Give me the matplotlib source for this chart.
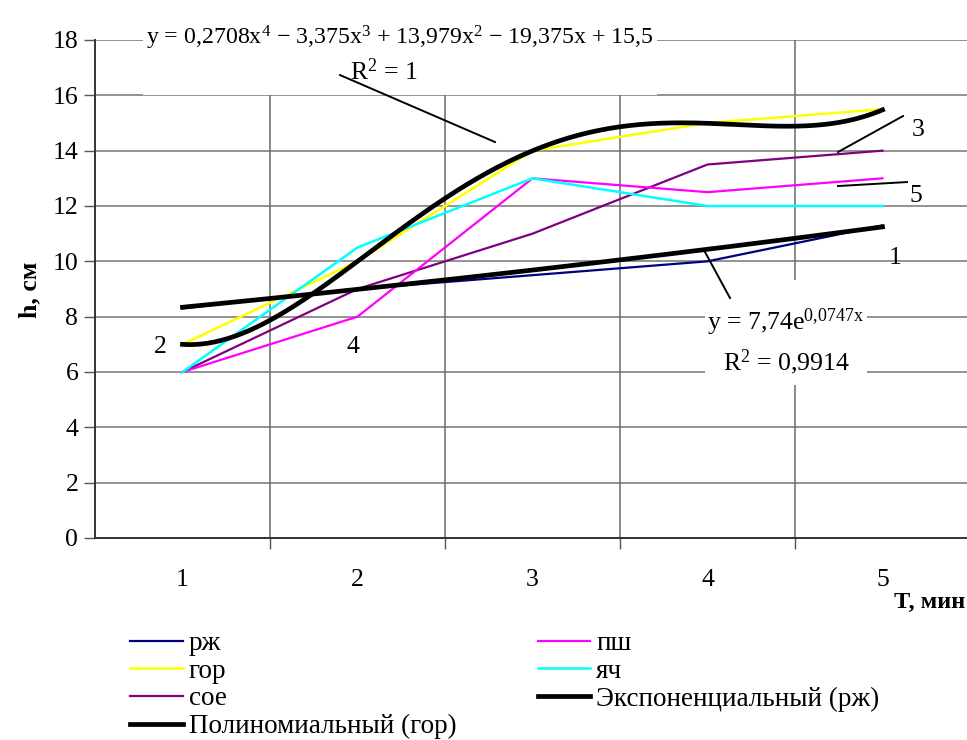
import numpy as np
import matplotlib
matplotlib.use("Agg")
import matplotlib.pyplot as plt
from matplotlib.patches import Rectangle

plt.rcParams['font.family'] = ['Liberation Serif', 'DejaVu Serif']
plt.rcParams['mathtext.fontset'] = 'custom'
plt.rcParams['mathtext.rm'] = 'Liberation Serif'
plt.rcParams['mathtext.it'] = 'Liberation Serif:italic'

# время, мин
T = [1, 2, 3, 4, 5]
# высота, см
rzh = [8.3, 9.0, 9.5, 10.0, 11.3]
gor = [7.0, 10.0, 14.0, 15.0, 15.5]
soe = [6.0, 9.0, 11.0, 13.5, 14.0]
psh = [6.0, 8.0, 13.0, 12.5, 13.0]
yach = [6.0, 10.5, 13.0, 12.0, 12.0]

# линии тренда
poly_coef = [0.2708, -3.375, 13.979, -19.375, 15.5]
exp_a, exp_b = 7.74, 0.0747

yticks = list(range(0, 19, 2))

W, H = 967, 740
fig = plt.figure(figsize=(W / 100, H / 100), dpi=100)
ax = fig.add_axes([95 / W, (H - 538) / H, 875 / W, 498 / H])

def px(x, y):
    # пиксели -> данные
    return 0.5 + (x - 95) / 175.0, (538 - y) / 27.67

ax.set_xlim(0.5, 5.5)
ax.set_ylim(0, 18)
ax.set_yticks(yticks)
ax.set_xticks(T)
ax.set_xticks([1.5, 2.5, 3.5, 4.5], minor=True)
ax.tick_params(axis='x', which='major', length=0, pad=22, labelsize=18.5)
ax.tick_params(axis='x', which='minor', length=8, width=1, color='#555555')
ax.tick_params(axis='y', length=8, width=1, color='#555555', labelsize=18.5, pad=4)
for s in ['top', 'right']:
    ax.spines[s].set_visible(False)
ax.spines['left'].set_color('#333333')
ax.spines['bottom'].set_color('#333333')
ax.spines['left'].set_linewidth(1.4)
ax.spines['bottom'].set_linewidth(1.4)

for v in yticks[1:]:
    ax.axhline(v, color='#8a8a8a', lw=1.3, zorder=0.5)
for v in [1.5, 2.5, 3.5, 4.5]:
    ax.axvline(v, color='#6a6a6a', lw=1.1, zorder=0.5)

ax.plot(T, rzh, color='#000080', lw=1.6, label='рж', zorder=2)
ax.plot(T, gor, color='#FFFF00', lw=1.8, label='гор', zorder=2)
ax.plot(T, soe, color='#800080', lw=1.6, label='сое', zorder=2)
ax.plot(T, psh, color='#FF00FF', lw=1.6, label='пш', zorder=2)
ax.plot(T, yach, color='#00FFFF', lw=1.8, label='яч', zorder=2)

xs = np.linspace(1, 5, 200)
ax.plot(xs, exp_a * np.exp(exp_b * xs), color='black', lw=3.4, zorder=3,
        label='Экспоненциальный (рж)')
ax.plot(xs, np.polyval(poly_coef, xs), color='black', lw=3.4, zorder=3,
        label='Полиномиальный (гор)')

# подложки под подписи уравнений
x0, y0 = px(143, 95)
x1, y1 = px(657, 20)
ax.add_patch(Rectangle((x0, y0), x1 - x0, y1 - y0, facecolor='white',
                       edgecolor='none', zorder=1, clip_on=False))
x0, y0 = px(705, 385)
x1, y1 = px(867, 280)
ax.add_patch(Rectangle((x0, y0), x1 - x0, y1 - y0, facecolor='white',
                       edgecolor='none', zorder=1))

fs = 18.5
ax.text(*px(400, 38), 'y = 0,2708$\\mathregular{x^{4}}$ − 3,375$\\mathregular{x^{3}}$ + '
        '13,979$\\mathregular{x^{2}}$ − 19,375x + 15,5',
        ha='center', va='center', fontsize=17.2, zorder=4, clip_on=False)
ax.text(*px(384, 72), '$\\mathregular{R^{2}}$ = 1', ha='center', va='center',
        fontsize=fs, zorder=4)
ax.text(*px(786, 322), 'y = 7,74$\\mathregular{e^{0{,}0747x}}$', ha='center',
        va='center', fontsize=fs, zorder=4)
ax.text(*px(786, 362), '$\\mathregular{R^{2}}$ = 0,9914', ha='center',
        va='center', fontsize=fs, zorder=4)

# выноски
for a, b in [((340, 75), (495, 142)), ((705, 252), (730, 298)),
             ((838, 152), (903, 116)), ((838, 186), (907, 182))]:
    p, q = px(*a), px(*b)
    ax.plot([p[0], q[0]], [p[1], q[1]], color='black', lw=1.4, zorder=4)

for t, pos in [('1', (895, 258)), ('2', (160, 347)), ('3', (918, 130)),
               ('4', (353, 347)), ('5', (916, 196))]:
    ax.text(*px(*pos), t, ha='center', va='center', fontsize=fs, zorder=4)

fig.text(30 / W, 1 - 290 / H, 'h, см', rotation=90, ha='center', va='center',
         fontsize=18.5, fontweight='bold')
fig.text(965 / W, 1 - 602 / H, 'T, мин', ha='right', va='center',
         fontsize=17.5, fontweight='bold')

hs = {l.get_label(): l for l in ax.get_lines()}
order = ['рж', 'гор', 'сое', 'Полиномиальный (гор)', 'пш', 'яч',
         'Экспоненциальный (рж)']
fig.legend([hs[k] for k in order], order, loc='upper left',
           bbox_to_anchor=(130 / W, 1 - 631 / H), ncol=2, frameon=False,
           fontsize=19.5, handlelength=1.95, handletextpad=0.22,
           labelspacing=0.1, columnspacing=3.0, borderpad=0, borderaxespad=0)

fig.savefig('out.png', dpi=100)
